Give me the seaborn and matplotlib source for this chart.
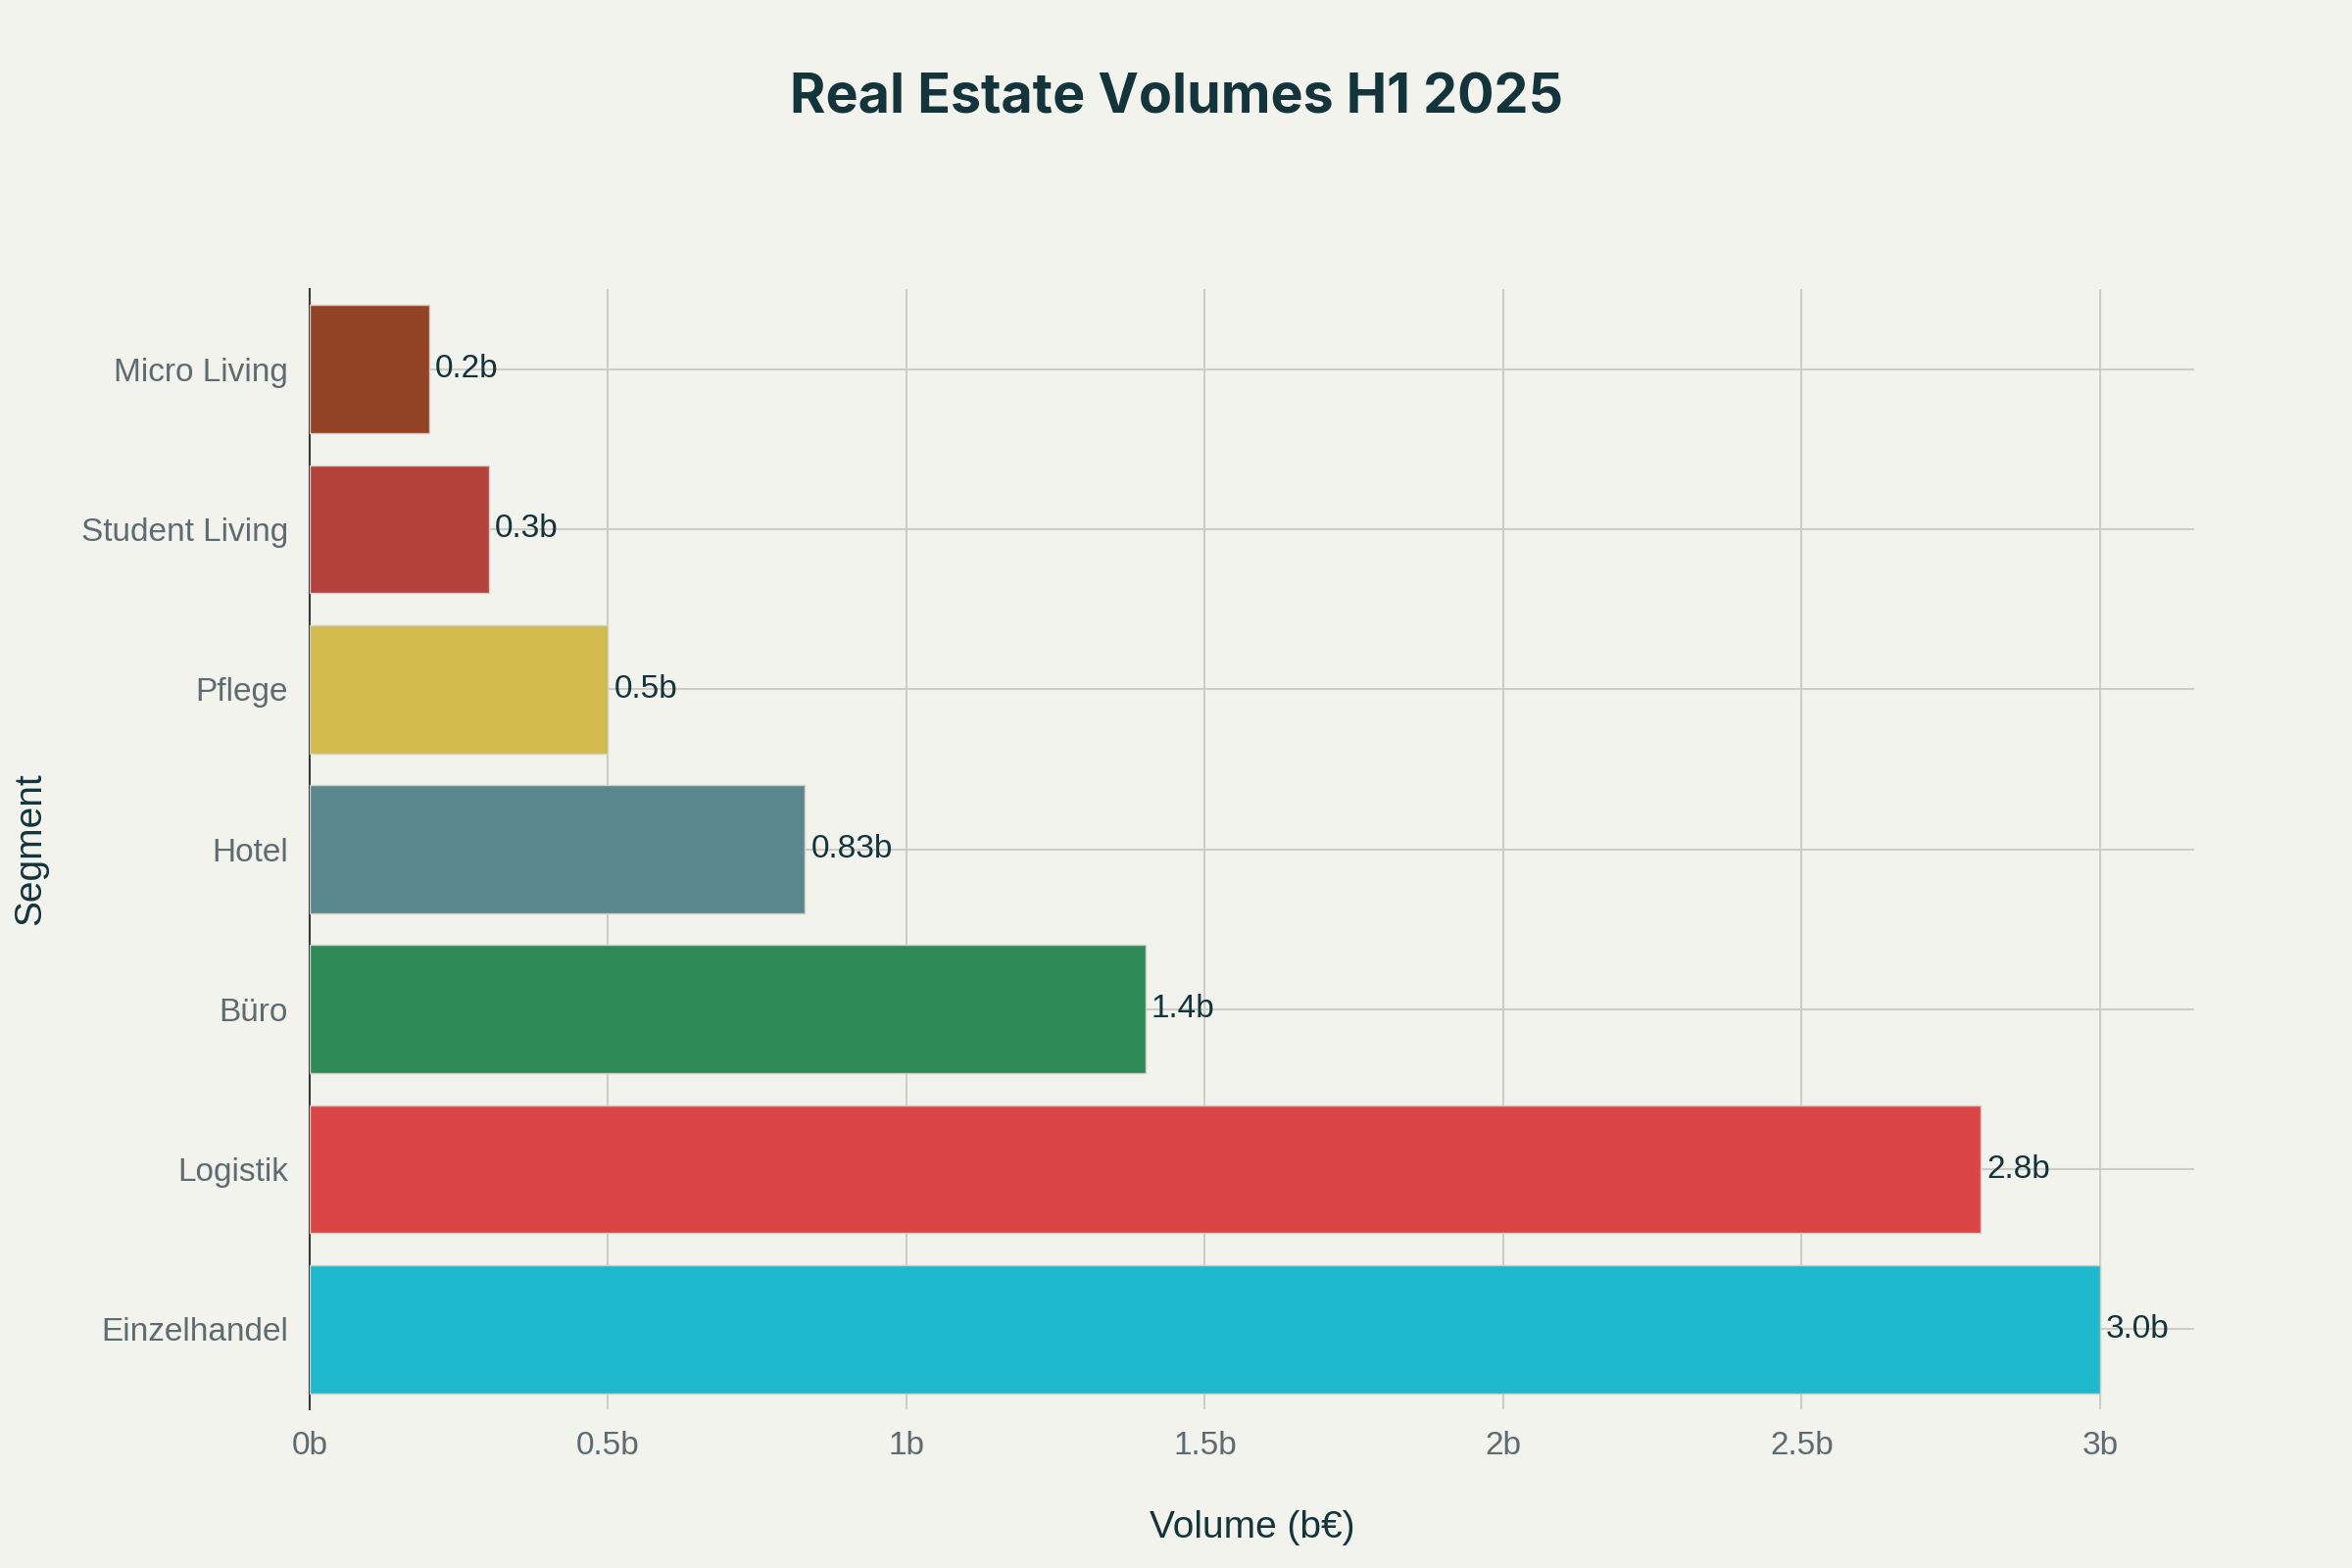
import pandas as pd
import seaborn as sns
import matplotlib.pyplot as plt

segments = ["Micro Living", "Student Living", "Pflege", "Hotel", "Büro", "Logistik", "Einzelhandel"]
volumes = [0.2, 0.3, 0.5, 0.83, 1.4, 2.8, 3.0]
labels = ["0.2b", "0.3b", "0.5b", "0.83b", "1.4b", "2.8b", "3.0b"]
colors = ["#944426", "#B4413C", "#D2BA4C", "#5D878F", "#2E8B57", "#DB4545", "#1FB8CD"]
xticks = [0, 0.5, 1, 1.5, 2, 2.5, 3]
xticklabels = ["0b", "0.5b", "1b", "1.5b", "2b", "2.5b", "3b"]

bg = "#F3F3EE"
dark = "#13343B"
grey = "#5E6B70"

sns.set_theme(style="whitegrid")
plt.rcParams["font.family"] = ["Liberation Sans", "DejaVu Sans"]

df = pd.DataFrame({"Segment": segments, "Volume": volumes})

fig = plt.figure(figsize=(24, 16), dpi=100, facecolor=bg)
ax = fig.add_axes([316 / 2400, 1 - 1438 / 1600, (2239 - 316) / 2400, (1438 - 295) / 1600])
ax.set_facecolor(bg)

sns.barplot(data=df, y="Segment", x="Volume", hue="Segment", palette=colors,
            order=segments, orient="h", width=0.8, legend=False, saturation=1,
            edgecolor="#CFCFC8", linewidth=1.0, ax=ax, zorder=3)

for i, (v, lab) in enumerate(zip(volumes, labels)):
    ax.text(v + 0.01, i, lab, va="center", ha="left", fontsize=24, color=dark, zorder=4)

ax.set_xlim(0, 3.158)
ax.set_ylim(6.5, -0.5)
ax.set_xticks(xticks)
ax.set_xticklabels(xticklabels)
ax.tick_params(axis="x", labelsize=24, colors=grey, length=0, pad=16)
ax.tick_params(axis="y", labelsize=24, colors=grey, length=12, width=1.2, color="#CDCDC6", pad=4)

ax.grid(True, axis="both", color="#CDCDC6", linewidth=1.5, zorder=0)
ax.set_axisbelow(True)
for s in ["top", "right", "bottom"]:
    ax.spines[s].set_visible(False)
ax.spines["left"].set_color("#3A3A3A")
ax.spines["left"].set_linewidth(1.5)

ax.set_xlabel("Volume (b€)", fontsize=28, color=dark, labelpad=36)
ax.set_ylabel("Segment", fontsize=28, color=dark, labelpad=24)

fig.text(0.5, 1 - 100 / 1600, "Real Estate Volumes H1 2025", ha="center", va="center",
         fontsize=40, fontweight="bold", color=dark, family=["Inter", "DejaVu Sans"])

plt.savefig("out.png", dpi=100, facecolor=bg)
